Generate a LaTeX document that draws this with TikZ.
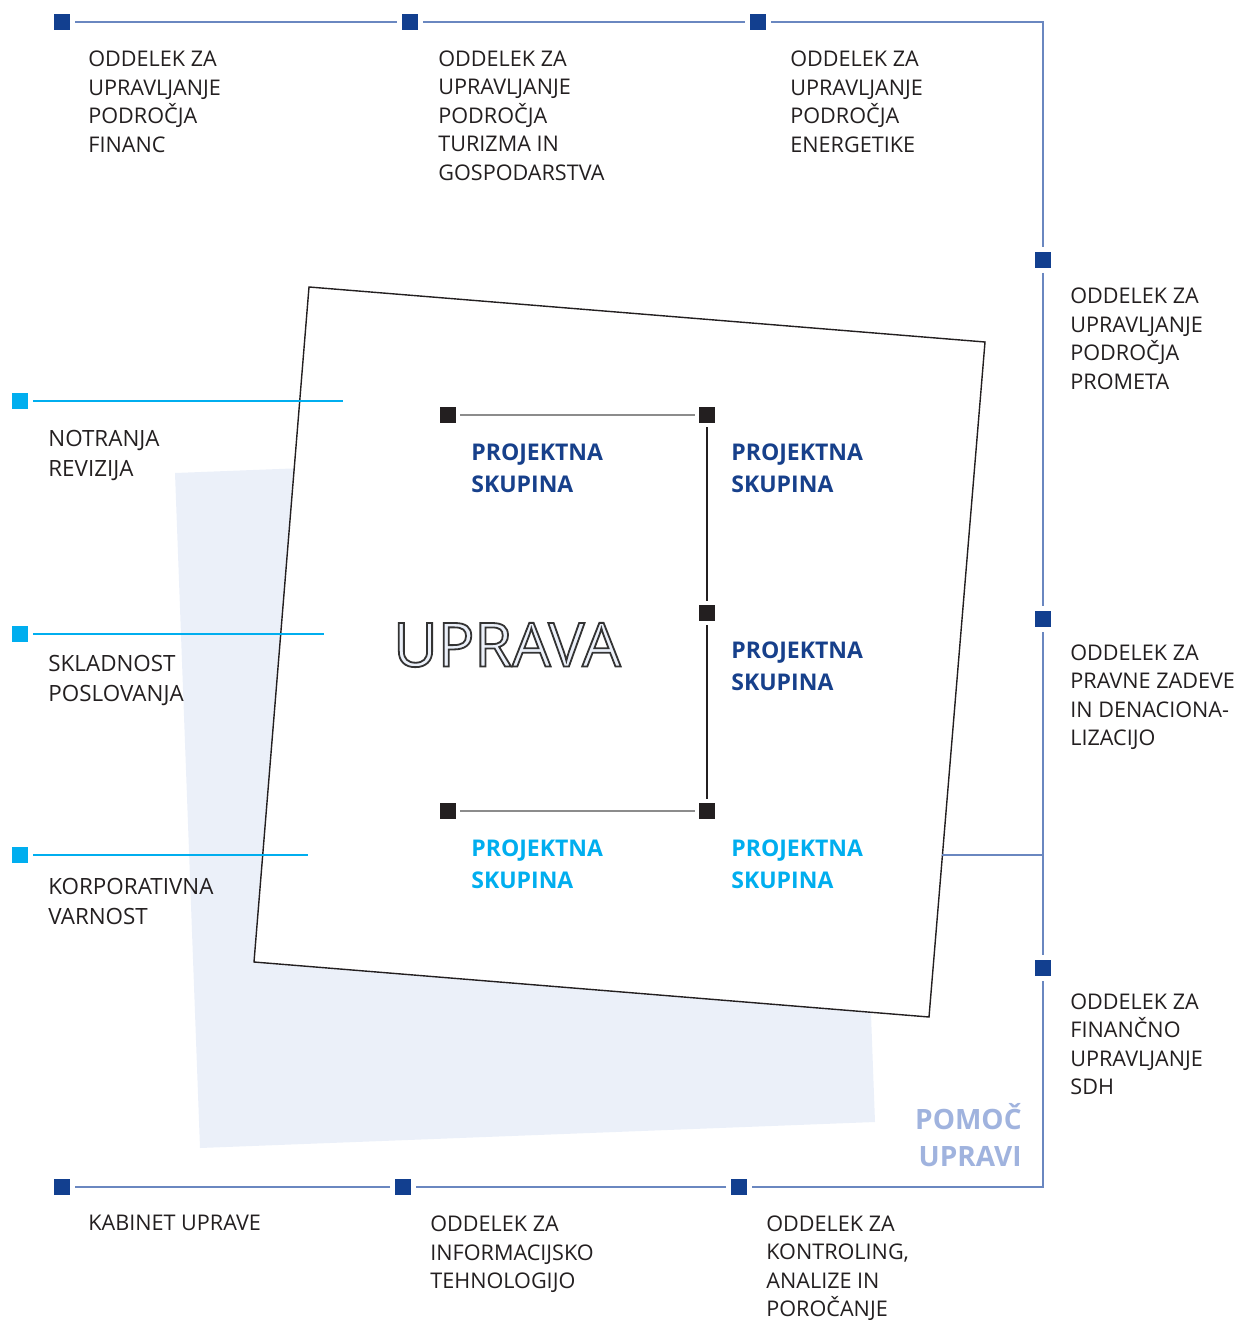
\documentclass[tikz,border=0pt]{standalone}
\usepackage{fontspec}
\setmainfont{Open Sans}

\definecolor{markblue}{HTML}{123F8F}
\definecolor{lineblue}{HTML}{6A87C0}
\definecolor{markcyan}{HTML}{00AEEF}
\definecolor{markblack}{HTML}{231F20}
\definecolor{txtdark}{HTML}{231F20}
\definecolor{grpblue}{HTML}{17408B}
\definecolor{panelblue}{HTML}{EBF0F9}
\definecolor{helpblue}{HTML}{A0B3DE}
\definecolor{linegray}{HTML}{8C8C8C}

\newcommand\outlineword[1]{\special{pdf:literal direct 0.2 0.2 0.2 RG 2 Tr 0.9 w}#1\special{pdf:literal direct 0 Tr}}

\begin{document}
\begin{tikzpicture}[x=0.5pt, y=-0.5pt,
    blue mark/.style={rectangle, fill=markblue, minimum size=8pt, inner sep=0pt, outer sep=2.5pt},
    cyan mark/.style={blue mark, fill=markcyan},
    black mark/.style={blue mark, fill=markblack, outer sep=2pt},
    blue line/.style={draw=lineblue, line width=0.6pt},
    cyan line/.style={draw=markcyan, line width=0.6pt},
    dept node/.style={anchor=base west, align=left, inner sep=0pt, text=txtdark, font=\fontsize{10.8}{14.25}\selectfont},
    side node/.style={dept node, font=\fontsize{11.2}{15}\selectfont},
    group node/.style={anchor=base west, align=left, inner sep=0pt, text=grpblue, font=\bfseries\fontsize{11.5}{16}\selectfont}]
  \useasboundingbox (0,0) rectangle (1236,1320);

  % panel behind the board
  \fill[panelblue] (175,473) -- (850,447) -- (875,1122) -- (200,1148) -- cycle;
  % the board
  \draw[line width=0.7pt, draw=markblack, fill=white] (309,287) -- (985,342) -- (929,1017) -- (254,962) -- cycle;

  % outer frame
  \node[blue mark] (fin) at (62,22) {};
  \node[blue mark] (tur) at (410,22) {};
  \node[blue mark] (ene) at (758,22) {};
  \coordinate (ne) at (1043,22);
  \node[blue mark] (pro) at (1043,260) {};
  \node[blue mark] (prav) at (1043,619) {};
  \node[blue mark] (sdh) at (1043,968) {};
  \coordinate (se) at (1043,1187);
  \node[blue mark] (kont) at (739,1187) {};
  \node[blue mark] (info) at (403,1187) {};
  \node[blue mark] (kab) at (62,1187) {};
  \coordinate (board) at (942,855);
  \coordinate (frame) at (1043,855);

  \draw[blue line] (fin) -- (tur);
  \draw[blue line] (tur) -- (ene);
  \draw[blue line] (ene) -- (ne) -- (pro);
  \draw[blue line] (pro) -- (prav);
  \draw[blue line] (prav) -- (sdh);
  \draw[blue line] (sdh) -- (se) -- (kont);
  \draw[blue line] (kont) -- (info);
  \draw[blue line] (info) -- (kab);
  \draw[blue line] (board) -- (frame);

  % left side
  \node[cyan mark] (rev) at (20,401) {};
  \node[cyan mark] (skl) at (20,634) {};
  \node[cyan mark] (kor) at (20,855) {};
  \coordinate (rev end) at (343,401);
  \coordinate (skl end) at (324,634);
  \coordinate (kor end) at (308,855);
  \draw[cyan line] (rev) -- (rev end);
  \draw[cyan line] (skl) -- (skl end);
  \draw[cyan line] (kor) -- (kor end);

  % project groups
  \node[black mark] (pa) at (448,415) {};
  \node[black mark] (pb) at (707,415) {};
  \node[black mark] (pc) at (707,613) {};
  \node[black mark] (pd) at (448,811) {};
  \node[black mark] (pe) at (707,811) {};
  \draw[draw=linegray, line width=0.7pt] (pa) -- (pb);
  \draw[draw=linegray, line width=0.7pt] (pd) -- (pe);
  \draw[draw=markblack, line width=0.6pt] (pb) -- (pc);
  \draw[draw=markblack, line width=0.6pt] (pc) -- (pe);

  % texts (anchored at the baseline of the last line)
  \node[dept node] (t fin) at (88,152.5) {ODDELEK ZA\\UPRAVLJANJE\\PODROČJA\\FINANC};
  \node[dept node] (t tur) at (438,180.5) {ODDELEK ZA\\UPRAVLJANJE\\PODROČJA\\TURIZMA IN\\GOSPODARSTVA};
  \node[dept node] (t ene) at (790,152.5) {ODDELEK ZA\\UPRAVLJANJE\\PODROČJA\\ENERGETIKE};
  \node[dept node] (t pro) at (1070,389.5) {ODDELEK ZA\\UPRAVLJANJE\\PODROČJA\\PROMETA};
  \node[dept node] (t prav) at (1070,745.5) {ODDELEK ZA\\PRAVNE ZADEVE\\IN DENACIONA-\\LIZACIJO};
  \node[dept node] (t sdh) at (1070,1094.5) {ODDELEK ZA\\FINANČNO\\UPRAVLJANJE\\SDH};
  \node[dept node] (t kab) at (88,1230.5) {KABINET UPRAVE};
  \node[dept node] (t info) at (430,1288.5) {ODDELEK ZA\\INFORMACIJSKO\\TEHNOLOGIJO};
  \node[dept node] (t kont) at (766,1316.5) {ODDELEK ZA\\KONTROLING,\\ANALIZE IN\\POROČANJE};

  \node[side node] (t rev) at (48,476) {NOTRANJA\\REVIZIJA};
  \node[side node] (t skl) at (48,701) {SKLADNOST\\POSLOVANJA};
  \node[side node] (t kor) at (48,924) {KORPORATIVNA\\VARNOST};

  \node[group node] (g a) at (471,492.5) {PROJEKTNA\\SKUPINA};
  \node[group node] (g b) at (731,492.5) {PROJEKTNA\\SKUPINA};
  \node[group node] (g c) at (731,690.5) {PROJEKTNA\\SKUPINA};
  \node[group node, text=markcyan] (g d) at (471,888.5) {PROJEKTNA\\SKUPINA};
  \node[group node, text=markcyan] (g e) at (731,888.5) {PROJEKTNA\\SKUPINA};

  \node[inner sep=0pt, font=\fontsize{30.5}{32}\selectfont, text=panelblue] (uprava) at (507,645) {\outlineword{UPRAVA}};
  \node[anchor=base east, align=right, inner sep=0pt, text=helpblue, font=\bfseries\fontsize{14}{18.5}\selectfont] (help) at (1022,1166) {POMOČ\\UPRAVI};
\end{tikzpicture}
\end{document}
